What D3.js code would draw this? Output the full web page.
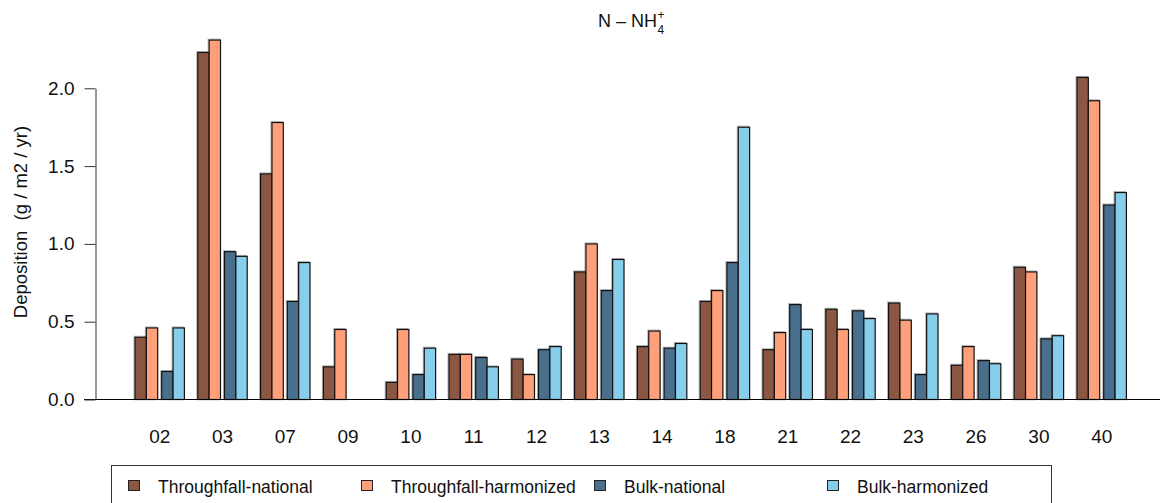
<!DOCTYPE html>
<html>
<head>
<meta charset="utf-8">
<script src="https://cdn.jsdelivr.net/npm/d3@7"></script>
<style>
  html, body { margin: 0; padding: 0; background: #fff; }
  svg { display: block; font-family: "Liberation Sans", Arial, sans-serif; }
</style>
</head>
<body>
<svg id="chart" width="1160" height="503"></svg>
<script>
// Plot sites (x categories)
const sites = ["02", "03", "07", "09", "10", "11", "12", "13", "14", "18", "21", "22", "23", "26", "30", "40"];

// Series names and colours
const seriesNames = ["Throughfall-national", "Throughfall-harmonized", "Bulk-national", "Bulk-harmonized"];
const seriesColors = ["#8B5742", "#FFA07A", "#4A6F8D", "#87CEEB"];

// Deposition N-NH4+ (g / m2 / yr) per site, one array per series
const throughfallNational   = [0.40, 2.23, 1.45, 0.21, 0.11, 0.29, 0.26, 0.82, 0.34, 0.63, 0.32, 0.58, 0.62, 0.22, 0.85, 2.07];
const throughfallHarmonized = [0.46, 2.31, 1.78, 0.45, 0.45, 0.29, 0.16, 1.00, 0.44, 0.70, 0.43, 0.45, 0.51, 0.34, 0.82, 1.92];
const bulkNational          = [0.18, 0.95, 0.63, null, 0.16, 0.27, 0.32, 0.70, 0.33, 0.88, 0.61, 0.57, 0.16, 0.25, 0.39, 1.25];
const bulkHarmonized        = [0.46, 0.92, 0.88, null, 0.33, 0.21, 0.34, 0.90, 0.36, 1.75, 0.45, 0.52, 0.55, 0.23, 0.41, 1.33];

// Y axis ticks
const yTicks = [0, 0.5, 1.0, 1.5, 2.0];

const allSeries = [throughfallNational, throughfallHarmonized, bulkNational, bulkHarmonized];

const svg = d3.select("#chart");

// Scales
const y = d3.scaleLinear().domain([0, 2]).range([399.5, 88.3]);
const x = d3.scaleBand().domain(sites).range([128.3, 1133.1]).paddingInner(0.213).paddingOuter(0.1065);

// Position of each bar inside a site group: two pairs separated by a small gap
const bw = x.bandwidth();
const pairGap = 4;
const barW = (bw - pairGap) / 4;
const barOffset = d3.scaleOrdinal().domain([0, 1, 2, 3]).range([0, barW, 2 * barW + pairGap, 3 * barW + pairGap]);

// Flatten into bar records
const bars = [];
allSeries.forEach((vals, s) => {
  vals.forEach((v, i) => {
    if (v !== null) bars.push({ site: sites[i], series: s, value: v });
  });
});

// Faint offset shadow behind each bar
svg.append("g").selectAll("rect")
  .data(bars)
  .join("rect")
  .attr("x", d => x(d.site) + barOffset(d.series) - 1)
  .attr("y", d => y(d.value) - 1)
  .attr("width", barW)
  .attr("height", d => y(0) - y(d.value))
  .attr("fill", "none")
  .attr("stroke", "#000")
  .attr("stroke-opacity", 0.3)
  .attr("stroke-width", 1);

// Bars
svg.append("g").selectAll("rect")
  .data(bars)
  .join("rect")
  .attr("x", d => x(d.site) + barOffset(d.series))
  .attr("y", d => y(d.value))
  .attr("width", barW)
  .attr("height", d => y(0) - y(d.value))
  .attr("fill", d => seriesColors[d.series])
  .attr("stroke", "#111")
  .attr("stroke-width", 1.2);

// Baseline across the plot
svg.append("line")
  .attr("x1", 84).attr("x2", 1160)
  .attr("y1", y(0)).attr("y2", y(0))
  .attr("stroke", "#000").attr("stroke-width", 1.2);

// Y axis
const yAxis = d3.axisLeft(y)
  .tickValues(yTicks)
  .tickFormat(d3.format(".1f"))
  .tickSize(11)
  .tickSizeOuter(0)
  .tickPadding(10);

const gy = svg.append("g")
  .attr("transform", "translate(95.5,0)")
  .call(yAxis);
gy.select(".domain").attr("stroke", "#333").attr("stroke-width", 1);
gy.selectAll(".tick line").attr("stroke", "#333");
gy.selectAll(".tick text")
  .attr("font-size", 19)
  .attr("font-family", "Liberation Sans, Arial, sans-serif")
  .attr("fill", "#111");

// Y axis title
svg.append("text")
  .attr("transform", "translate(27,222) rotate(-90)")
  .attr("text-anchor", "middle")
  .attr("font-size", 18.5)
  .attr("fill", "#111")
  .style("white-space", "pre")
  .text("Deposition  (g / m2 / yr)");

// Site labels
svg.append("g").selectAll("text")
  .data(sites)
  .join("text")
  .attr("x", d => x(d) + bw / 2)
  .attr("y", 443)
  .attr("text-anchor", "middle")
  .attr("font-size", 19)
  .attr("fill", "#111")
  .text(d => d);

// Title: N – NH4+ with stacked sub/superscript
const title = svg.append("text")
  .attr("x", 598)
  .attr("y", 27)
  .attr("font-size", 18)
  .attr("fill", "#111")
  .text("N \u2013 NH");
const tw = title.node().getComputedTextLength();
svg.append("text")
  .attr("x", 598 + tw + 0.5).attr("y", 33.5)
  .attr("font-size", 12).attr("fill", "#111")
  .text("4");
svg.append("text")
  .attr("x", 598 + tw + 0.5).attr("y", 19)
  .attr("font-size", 12).attr("fill", "#111")
  .text("+");

// Legend box
svg.append("rect")
  .attr("x", 111.5).attr("y", 465.5)
  .attr("width", 940).attr("height", 60)
  .attr("fill", "none")
  .attr("stroke", "#333").attr("stroke-width", 1);

const legendX = [128, 361, 594, 827];
const legend = svg.append("g").selectAll("g")
  .data(seriesNames)
  .join("g")
  .attr("transform", (d, i) => `translate(${legendX[i]},480)`);
legend.append("rect")
  .attr("x", 0.5).attr("y", 0.5)
  .attr("width", 11).attr("height", 10)
  .attr("fill", (d, i) => seriesColors[i])
  .attr("stroke", "#222").attr("stroke-width", 1);
legend.append("text")
  .attr("x", 30).attr("y", 13)
  .attr("font-size", 17.5)
  .attr("fill", "#111")
  .text(d => d);
</script>
</body>
</html>
